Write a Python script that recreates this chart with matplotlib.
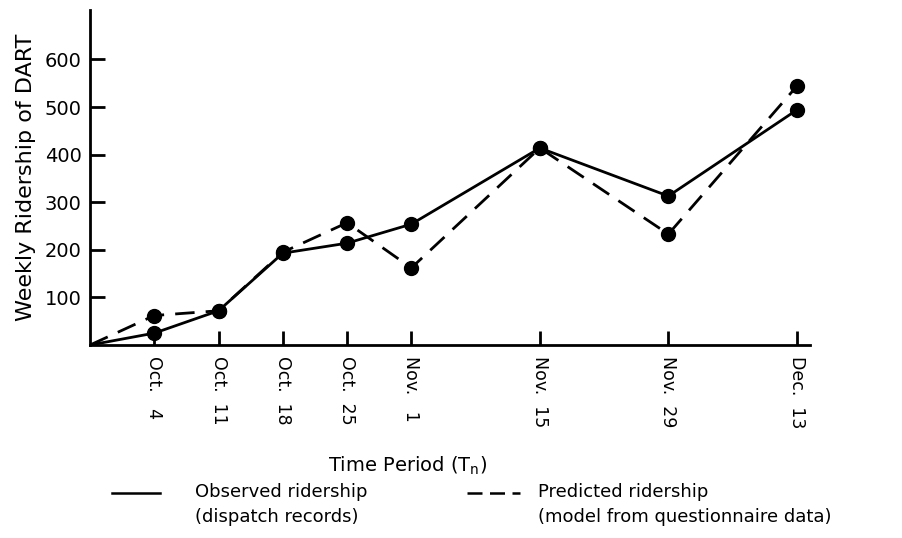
import matplotlib
matplotlib.use('Agg')
import matplotlib.pyplot as plt
from matplotlib.lines import Line2D

# week index counted from Sep. 27 (origin)
weeks = [0, 1, 2, 3, 4, 5, 7, 9, 11]
date_labels = ['Oct.   4', 'Oct.  11', 'Oct.  18', 'Oct.  25', 'Nov.   1',
               'Nov.  15', 'Nov.  29', 'Dec.  13']
observed = [0, 25, 72, 193, 214, 254, 414, 313, 494]
predicted = [0, 62, 72, 195, 257, 162, 414, 233, 544]
y_ticks = [100, 200, 300, 400, 500, 600]

plt.rcParams['font.family'] = ['DejaVu Sans']

fig = plt.figure(figsize=(9.03, 5.38), dpi=100)
ax = fig.add_axes([0.0997, 0.3587, 0.797, 0.6227])

ax.plot(weeks, observed, color='black', lw=2.0, solid_capstyle='butt')
ax.plot(weeks, predicted, color='black', lw=2.0, dashes=(7, 4))
ax.plot(weeks[1:], observed[1:], 'o', color='black', ms=10)
ax.plot(weeks[1:], predicted[1:], 'o', color='black', ms=10)

ax.set_xlim(0, 11.2)
ax.set_ylim(0, 704)
for s in ['top', 'right']:
    ax.spines[s].set_visible(False)
for s in ['left', 'bottom']:
    ax.spines[s].set_linewidth(2.0)

ax.set_yticks(y_ticks)
ax.set_yticklabels([str(v) for v in y_ticks], fontsize=14)
ax.tick_params(axis='y', direction='in', length=11, width=2, pad=6)

ax.set_xticks(weeks[1:])
ax.set_xticklabels(date_labels, rotation=270, fontsize=12.5, va='top', ha='center')
ax.tick_params(axis='x', direction='in', length=10, width=2, pad=8)

ax.set_ylabel('Weekly Ridership of DART', fontsize=16, labelpad=6)

fig.text(0.451, 0.135, 'Time Period ($\\mathregular{T_n}$)', fontsize=14,
         ha='center', va='center')

# legend drawn by hand below the axis title
fig.add_artist(Line2D([0.124, 0.177], [0.084, 0.084], color='black', lw=1.8,
                      transform=fig.transFigure))
fig.add_artist(Line2D([0.517, 0.576], [0.084, 0.084], color='black', lw=1.8,
                      dashes=(6, 3), transform=fig.transFigure))
fig.text(0.216, 0.103, 'Observed ridership\n(dispatch records)', fontsize=13,
         ha='left', va='top', linespacing=1.5)
fig.text(0.596, 0.103, 'Predicted ridership\n(model from questionnaire data)',
         fontsize=13, ha='left', va='top', linespacing=1.5)

fig.savefig('out.png', dpi=100)
